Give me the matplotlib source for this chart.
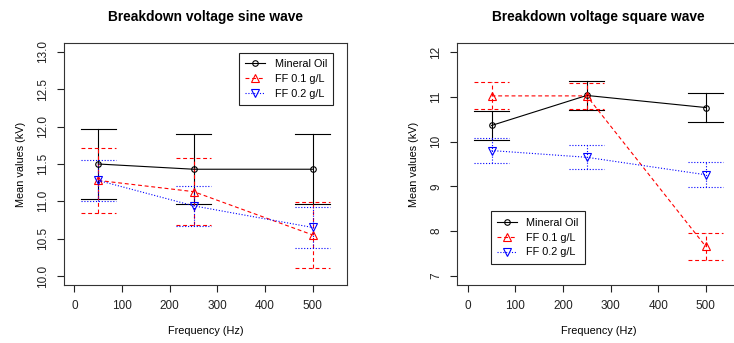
import matplotlib
matplotlib.use("Agg")
import matplotlib.pyplot as plt
import numpy as np

plt.rcParams['font.family'] = ['Liberation Sans', 'DejaVu Sans']

# data
freq = [50, 250, 500]
series_names = ['Mineral Oil', 'FF 0.1 g/L', 'FF 0.2 g/L']

sine_oil = [11.50, 11.43, 11.43]
sine_oil_err = [0.47, 0.47, 0.47]
sine_ff01 = [11.28, 11.13, 10.55]
sine_ff01_err = [0.44, 0.45, 0.44]
sine_ff02 = [11.28, 10.94, 10.65]
sine_ff02_err = [0.27, 0.27, 0.27]

square_oil = [10.36, 11.03, 10.76]
square_oil_err = [0.32, 0.32, 0.33]
square_ff01 = [11.02, 11.02, 7.66]
square_ff01_err = [0.30, 0.29, 0.30]
square_ff02 = [9.80, 9.65, 9.26]
square_ff02_err = [0.28, 0.27, 0.28]

sine_yticks = [10.0, 10.5, 11.0, 11.5, 12.0, 12.5, 13.0]
square_yticks = [7, 8, 9, 10, 11, 12]
xticks = [0, 100, 200, 300, 400, 500]

# styles
styles = [
    dict(color='black', ls='-', marker='o', ms=4),
    dict(color='red', ls=(0, (3.5, 2.5)), marker='^', ms=5.5),
    dict(color='blue', ls=(0, (1, 1.6)), marker='v', ms=5.5),
]
LW = 0.8
CAP = 37  # half width of error bar caps in Hz


def draw_series(ax, y, err, st, label):
    x = np.array(freq)
    y = np.array(y)
    err = np.array(err)
    ax.plot(x, y, color=st['color'], ls=st['ls'], lw=LW, marker=st['marker'],
            ms=st['ms'], mfc='none', mew=0.8, label=label, zorder=3)
    for xi, yi, ei in zip(x, y, err):
        ax.plot([xi, xi], [yi - ei, yi + ei], color=st['color'], ls=st['ls'], lw=LW, zorder=2)
        ax.plot([xi - CAP, xi + CAP], [yi + ei, yi + ei], color=st['color'], ls=st['ls'], lw=LW, zorder=2)
        ax.plot([xi - CAP, xi + CAP], [yi - ei, yi - ei], color=st['color'], ls=st['ls'], lw=LW, zorder=2)


def style_axes(ax, title, yticks, ylim, fmt):
    ax.set_xlim(-22, 572)
    ax.set_ylim(*ylim)
    ax.set_xticks(xticks)
    ax.set_yticks(yticks)
    ax.set_yticklabels([fmt.format(v) for v in yticks], rotation=90, va='center')
    ax.tick_params(direction='out', length=5, width=0.8, labelsize=8.5, pad=6, colors='#222222')
    for s in ax.spines.values():
        s.set_linewidth(0.8)
        s.set_color('#333333')
    ax.set_title(title, fontsize=9.9, fontweight='bold', pad=16)
    ax.set_xlabel('Frequency (Hz)', fontsize=7.8, labelpad=10)
    ax.set_ylabel('Mean values (kV)', fontsize=7.8, labelpad=8)


fig = plt.figure(figsize=(7.34, 3.43), dpi=100)
ax1 = fig.add_axes([0.0872, 0.1691, 0.3856, 0.7055])
ax2 = fig.add_axes([0.6230, 0.1691, 0.3852, 0.7055])

sine = [(sine_oil, sine_oil_err), (sine_ff01, sine_ff01_err), (sine_ff02, sine_ff02_err)]
square = [(square_oil, square_oil_err), (square_ff01, square_ff01_err), (square_ff02, square_ff02_err)]

for (y, e), st, name in zip(sine, styles, series_names):
    draw_series(ax1, y, e, st, name)
for (y, e), st, name in zip(square, styles, series_names):
    draw_series(ax2, y, e, st, name)

style_axes(ax1, 'Breakdown voltage sine wave', sine_yticks, (9.88, 13.12), '{:.1f}')
style_axes(ax2, 'Breakdown voltage square wave', square_yticks, (6.8, 12.2), '{:d}')

leg_kw = dict(fontsize=7.8, fancybox=False, framealpha=1, edgecolor='#222222',
              handlelength=1.8, handletextpad=0.9, labelspacing=0.45,
              borderaxespad=0, borderpad=0.6)
l1 = ax1.legend(loc='upper right', bbox_to_anchor=(0.952, 0.96), **leg_kw)
l2 = ax2.legend(loc='lower left', bbox_to_anchor=(0.118, 0.087), **leg_kw)
for l in (l1, l2):
    l.get_frame().set_linewidth(0.8)

fig.savefig('out.png', dpi=100)
